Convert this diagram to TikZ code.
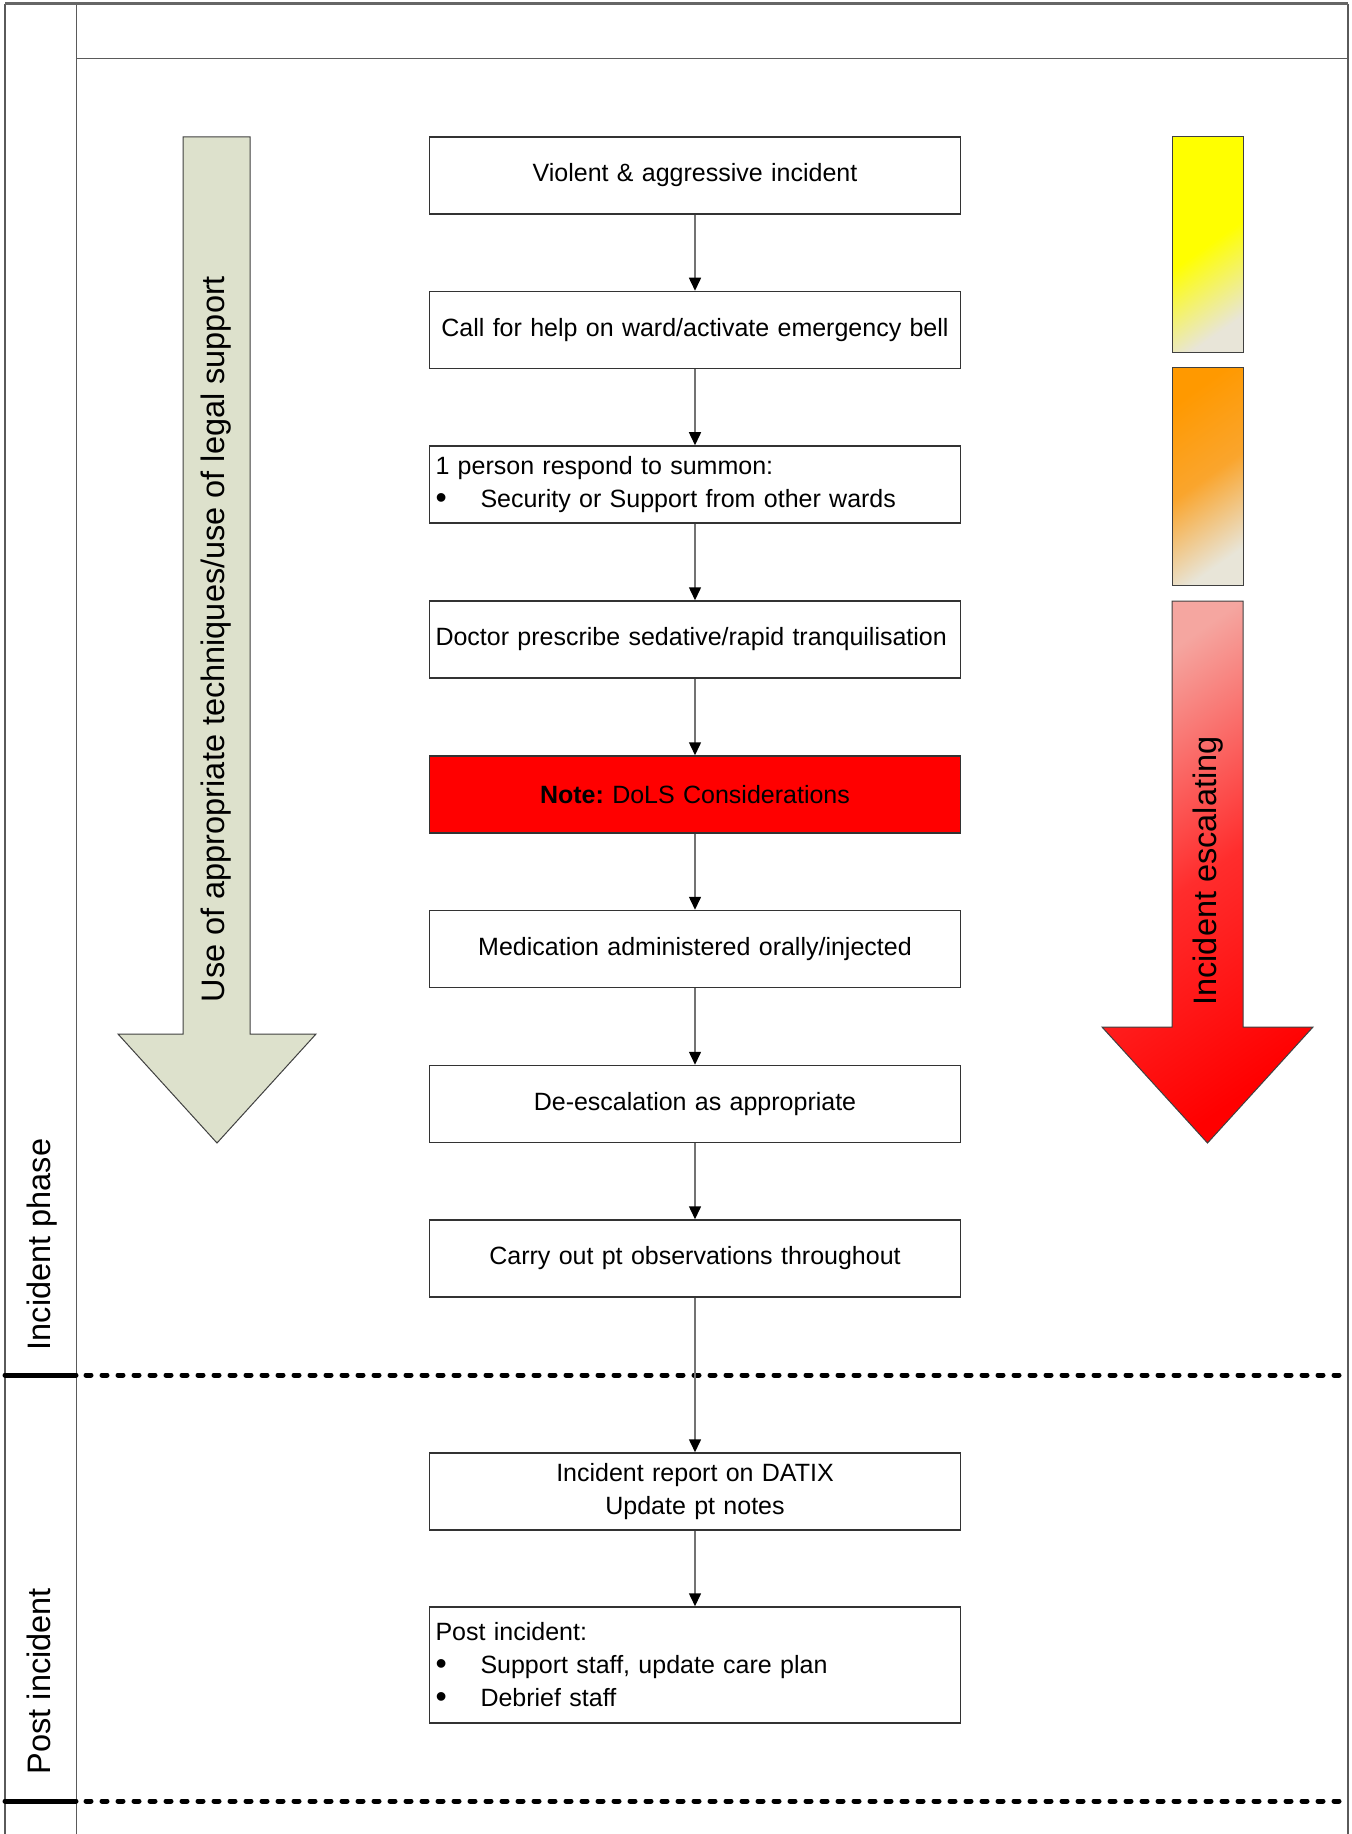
\documentclass[tikz,border=0pt]{standalone}
\usepackage{fontspec}
\setmainfont{Liberation Sans}
\usetikzlibrary{arrows.meta}
\definecolor{sage}{RGB}{221,225,204}
\definecolor{paleend}{RGB}{232,229,216}
\definecolor{orangefill}{RGB}{255,153,0}
\definecolor{orangemid}{RGB}{250,165,45}
\definecolor{pinkstart}{RGB}{245,166,160}
\definecolor{redmid}{RGB}{255,45,45}
\definecolor{framegray}{RGB}{90,90,90}
\newcommand{\boxfont}{\fontsize{12.5}{16.35}\selectfont}
\newcommand{\lblfont}{\fontsize{16.25}{19.5}\selectfont}
\newcommand{\blt}{\makebox[22.5pt][l]{\raisebox{-0.6pt}{\fontsize{16}{16}\selectfont\textbullet}}}
\frenchspacing
\begin{document}
\begin{tikzpicture}[x=0.5pt,y=-0.5pt,
  box/.style={draw=black!80, line width=0.75pt, fill=white,
    minimum width=265.5pt, minimum height=38.5pt, inner sep=0pt,
    text width=259.5pt, align=center, font=\boxfont},
  lbox/.style={box, align=left},
  conn/.style={draw=black!55, line width=0.75pt,
    -{Triangle[length=6.5pt,width=6pt,color=black]}},
  framel/.style={draw=framegray, line width=0.75pt},
  vlabel/.style={rotate=90, inner sep=0pt, font=\lblfont},
  bigarrow/.style={draw=black!75, line width=0.5pt},
  solidsep/.style={line width=2.5pt, line cap=round},
  dashsep/.style={line width=2.5pt, line cap=round, dash pattern=on 2.5pt off 5.5pt}]
\useasboundingbox (0,0) rectangle (1352,1834);

% frame
\draw[framel] (5,4) -- (5,1834);
\draw[framel, line width=0.5pt] (76,4) -- (76,1834);
\draw[framel] (1348,4) -- (1348,1834);
\draw[framel] (76,58.5) -- (1348,58.5);
\draw[draw=black!60, line width=1.5pt] (5,4) -- (1348,4);

% phase separators
\draw[solidsep] (5,1375) -- (76,1375);
\draw[dashsep] (86,1375) -- (1346,1375);
\draw[solidsep] (5,1801) -- (76,1801);
\draw[dashsep] (86,1801) -- (1346,1801);

% phase labels
\node[vlabel, anchor=base] (lphase) at (50,1244.5) {Incident phase};
\node[vlabel, anchor=base] (lpost) at (50,1681) {Post incident};

% left big arrow
\draw[bigarrow, fill=sage] (183,137) -- (250,137) -- (250,1034) -- (316,1034)
  -- (217,1143) -- (118,1034) -- (183,1034) -- cycle;
\node[vlabel] (lleft) at (216,639) {Use of appropriate techniques/use of legal support};

% right colour bars
\draw[bigarrow, top color=yellow, bottom color=paleend, middle color=yellow, shading angle=35]
  (1172,137) rectangle (1243,353);
\draw[bigarrow, top color=orangefill, bottom color=paleend, middle color=orangemid, shading angle=35]
  (1172,368) rectangle (1243,585);
\draw[bigarrow, top color=pinkstart, bottom color=red, middle color=redmid, shading angle=35]
  (1172,601) -- (1243,601) -- (1243,1027) -- (1313,1027)
  -- (1207.5,1143) -- (1102,1027) -- (1172,1027) -- cycle;
\node[vlabel] (lright) at (1208,871) {Incident escalating};

% flow boxes
\node[box] (b1) at (695,175.5) {Violent \& aggressive incident};
\node[box] (b2) at (695,330) {Call for help on ward/activate emergency bell};
\node[lbox] (b3) at (695,484.5) {1 person respond to summon:\\\blt Security or Support from other wards};
\node[lbox] (b4) at (695,639.5) {Doctor prescribe sedative/rapid tranquilisation};
\node[box, fill=red] (b5) at (695,794.5) {\textbf{Note:} DoLS Considerations};
\node[box] (b6) at (695,949) {Medication administered orally/injected};
\node[box] (b7) at (695,1104) {De-escalation as appropriate};
\node[box] (b8) at (695,1258.5) {Carry out pt observations throughout};
\node[box] (b9) at (695,1491.5) {Incident report on DATIX\\Update pt notes};
\node[lbox, minimum height=58pt] (b10) at (695,1665) {Post incident:\\\blt Support staff, update care plan\\\blt Debrief staff};

% connectors
\draw[conn] (b1) -- (b2);
\draw[conn] (b2) -- (b3);
\draw[conn] (b3) -- (b4);
\draw[conn] (b4) -- (b5);
\draw[conn] (b5) -- (b6);
\draw[conn] (b6) -- (b7);
\draw[conn] (b7) -- (b8);
\draw[conn] (b8) -- (b9);
\draw[conn] (b9) -- (b10);
\end{tikzpicture}
\end{document}
